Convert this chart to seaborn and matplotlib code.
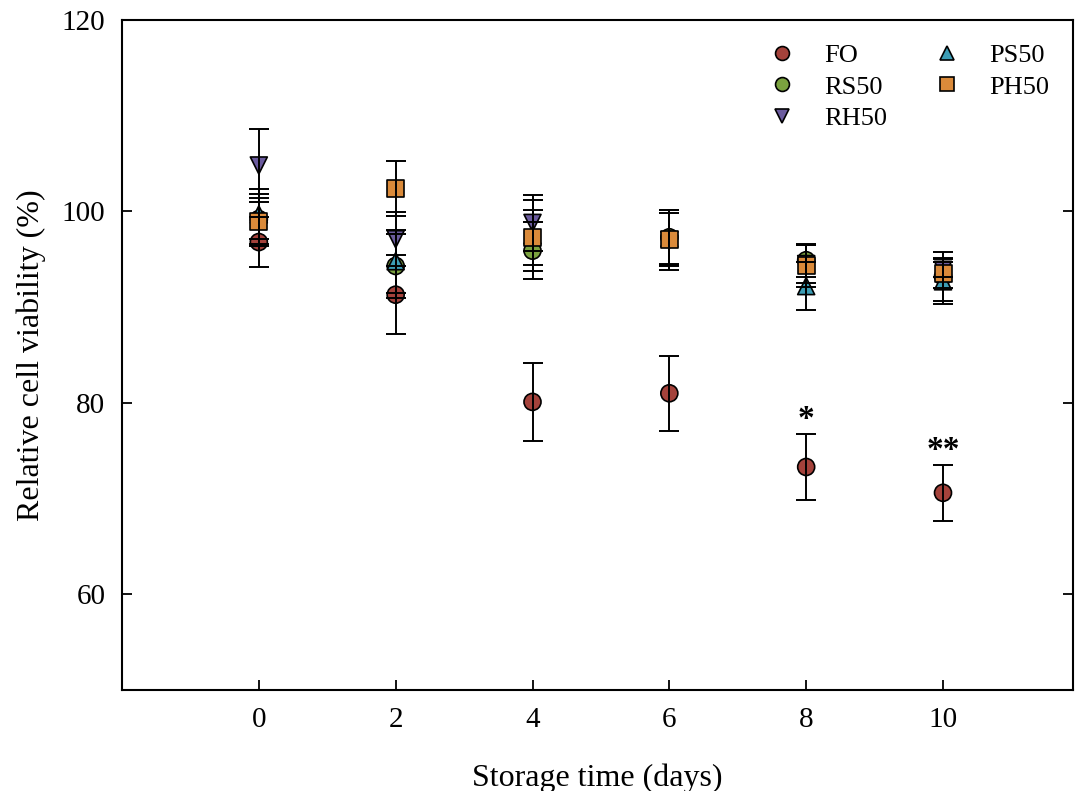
import numpy as np
import pandas as pd
import matplotlib
matplotlib.use("Agg")
import matplotlib.pyplot as plt
import seaborn as sns

days = [0, 2, 4, 6, 8, 10]
groups = ["FO", "RS50", "RH50", "PS50", "PH50"]
fo = [96.8, 91.3, 80.1, 81.0, 73.3, 70.6]
fo_sd = [2.6, 4.1, 4.1, 3.9, 3.4, 2.9]
rs50 = [99.2, 94.3, 95.9, 97.3, 94.9, 93.2]
rs50_sd = [2.6, 3.3, 3.0, 2.8, 1.7, 2.6]
rh50 = [104.8, 97.1, 98.8, 97.0, 94.5, 93.9]
rh50_sd = [3.8, 2.8, 2.9, 3.1, 2.0, 0.8]
ps50 = [99.7, 94.8, 97.5, 97.2, 92.2, 92.7]
ps50_sd = [2.6, 3.3, 3.7, 2.9, 2.5, 2.4]
ph50 = [98.9, 102.4, 97.3, 97.1, 94.3, 93.5]
ph50_sd = [2.5, 2.9, 2.9, 2.7, 2.2, 1.5]
sig_labels = {8: "*", 10: "**"}
x_ticks = [0, 2, 4, 6, 8, 10]
y_ticks = [60, 80, 100, 120]

means = [fo, rs50, rh50, ps50, ph50]
sds = [fo_sd, rs50_sd, rh50_sd, ps50_sd, ph50_sd]
rows = []
for g, m, s in zip(groups, means, sds):
    for d, v, e in zip(days, m, s):
        rows.append({"day": d, "value": v, "sd": e, "group": g})
df = pd.DataFrame(rows)

sns.set_style("ticks")
plt.rcParams["font.family"] = ["Liberation Serif", "DejaVu Serif"]
plt.rcParams["text.color"] = "black"
plt.rcParams["axes.labelcolor"] = "black"
plt.rcParams["xtick.color"] = "black"
plt.rcParams["ytick.color"] = "black"
plt.rcParams["axes.edgecolor"] = "black"

palette = {"FO": "#A4423B", "RS50": "#7BA23F", "RH50": "#6B5B9E",
           "PS50": "#3C9DB5", "PH50": "#DA8A3A"}
markers = {"FO": "o", "RS50": "o", "RH50": "v", "PS50": "^", "PH50": "s"}

fig = plt.figure(figsize=(10.75, 7.91), dpi=100)
ax = fig.add_axes([122/1075, 1-690/791, (1073-122)/1075, (690-20)/791])

sns.scatterplot(data=df, x="day", y="value", hue="group", style="group",
                palette=palette, markers=markers, hue_order=groups,
                style_order=groups, s=150, edgecolor="black", linewidth=1.2,
                ax=ax, zorder=2)

for g in groups:
    sub = df[df.group == g]
    ax.errorbar(sub["day"], sub["value"], yerr=sub["sd"], fmt="none",
                ecolor="black", elinewidth=1.4, capsize=7, capthick=1.4,
                zorder=3)

for d, lab in sig_labels.items():
    top = df[(df.group == "FO") & (df.day == d)]
    yv = float(top["value"].iloc[0] + top["sd"].iloc[0]) - 0.1
    ax.text(d, yv, lab, ha="center", va="bottom", fontsize=24,
            fontweight="bold")

ax.set_xlim(-2, 11.9)
ax.set_ylim(50, 120)
ax.set_xticks(x_ticks)
ax.set_yticks(y_ticks)
ax.tick_params(direction="in", length=7, width=1.3, labelsize=21,
               right=True, top=False, pad=12)
for sp in ax.spines.values():
    sp.set_linewidth(1.5)
    sp.set_visible(True)
ax.set_xlabel("Storage time (days)", fontsize=23, labelpad=22)
ax.set_ylabel("Relative cell viability (%)", fontsize=23, labelpad=11)

handles, labels = ax.get_legend_handles_labels()
for h in handles:
    try:
        h.set_markersize(10)
    except Exception:
        pass
leg = ax.legend(handles, labels, ncol=2, frameon=False, fontsize=19,
                loc="upper right", bbox_to_anchor=(1.0, 1.0),
                handletextpad=0.6, columnspacing=1.25, labelspacing=0.3,
                borderaxespad=0.5)

fig.savefig("out.png", dpi=100)
